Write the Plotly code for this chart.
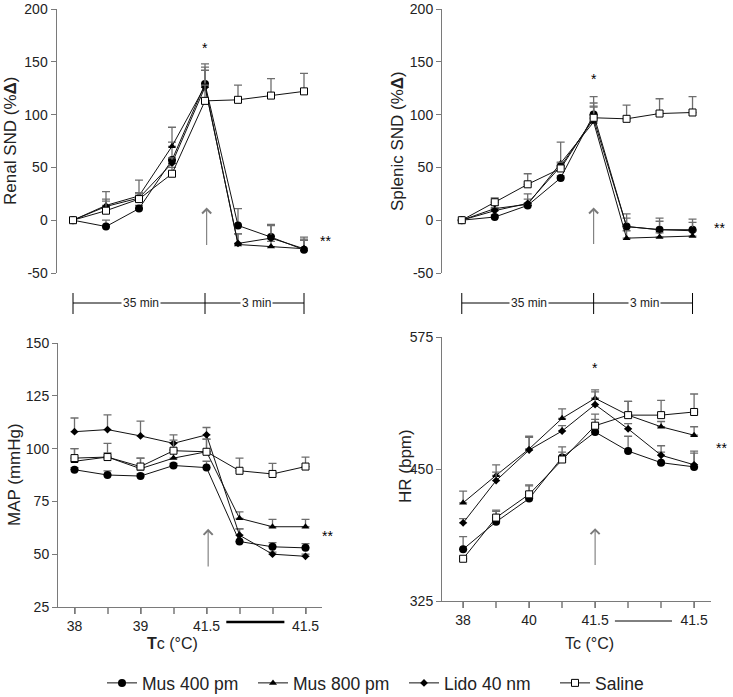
import plotly.graph_objects as go

W, H = 733, 697

# ---------------- data ----------------
time_index = [0, 1, 2, 3, 4, 5, 6, 7]
series_names = ["Mus 400 pm", "Mus 800 pm", "Lido 40 nm", "Saline"]

# Renal SND (%Δ)
renal_mus400 = [0, -6, 11, 57, 129, -5, -16, -28]
renal_mus800 = [0, 14, 23, 70, 127, -23, -25, -27]
renal_lido = [0, 13, 21, 54, 126, -22, -17, -27]
renal_saline = [0, 9, 20, 44, 113, 114, 118, 122]
renal_mus400_err = [0, 6, 3, 17, 19, 16, 12, 12]
renal_mus800_err = [0, 13, 15, 18, 18, 10, 5, 8]
renal_lido_err = [0, 5, 5, 5, 16, 9, 12, 9]
renal_saline_err = [0, 11, 5, 6, 15, 14, 16, 17]

# Splenic SND (%Δ)
splenic_mus400 = [0, 3, 14, 40, 100, -6, -9, -9]
splenic_mus800 = [0, 11, 15, 54, 93, -17, -16, -15]
splenic_lido = [0, 9, 16, 51, 96, -6, -9, -10]
splenic_saline = [0, 17, 34, 49, 97, 96, 101, 102]
splenic_mus400_err = [0, 2, 2, 2, 11, 12, 11, 10]
splenic_mus800_err = [0, 3, 10, 20, 14, 7, 4, 5]
splenic_lido_err = [0, 3, 4, 4, 12, 8, 8, 8]
splenic_saline_err = [0, 4, 10, 3, 20, 13, 14, 15]

# MAP (mmHg)
map_mus400 = [90, 87.5, 87, 92, 91, 56, 53.5, 53]
map_mus800 = [94, 96, 90.5, 95.5, 98.5, 67, 63, 63]
map_lido = [108, 109, 106, 102.5, 106.5, 59, 50, 49]
map_saline = [95.5, 96, 91.5, 99, 98.5, 89.5, 88, 91.5]
map_mus400_err = [1, 2, 1, 1, 3, 6, 2, 2]
map_mus800_err = [6, 6.5, 5, 4, 6, 3, 3.5, 3.5]
map_lido_err = [6.5, 7, 7, 4, 3.5, 3, 1, 1]
map_saline_err = [4.5, 2, 4, 5, 6, 6, 5, 4.5]

# HR (bpm)
hr_mus400 = [374, 400, 422, 461, 485, 467, 456, 452]
hr_mus800 = [418, 444, 469, 498, 517, 501, 490, 482]
hr_lido = [399, 439, 468, 486, 511, 488, 463, 454]
hr_saline = [365, 404, 426, 459, 491, 501, 501, 504]
hr_mus400_err = [12, 11, 13, 10, 12, 14, 10, 13]
hr_mus800_err = [11, 10, 12, 9, 8, 13, 5, 8]
hr_lido_err = [4, 8, 12, 5, 12, 5, 9, 13]
hr_saline_err = [0, 6, 8, 7, 11, 13, 14, 17]

top_tick_vals = [-50, 0, 50, 100, 150, 200]
top_tick_text = ["-50", "0", "50", "100", "150", "200"]
map_tick_vals = [25, 50, 75, 100, 125, 150]
hr_tick_vals = [325, 450, 575]
map_x_tickvals = [0, 2, 4, 7]
map_x_ticktext = ["38", "39", "41.5", "41.5"]
hr_x_tickvals = [0, 2, 4, 7]
hr_x_ticktext = ["38", "40", "41.5", "41.5"]

# ---------------- styles ----------------
FONT = "Liberation Sans, Arial, sans-serif"
AXC = "#7a7a7a"
TXT = "#222222"
ERRC = "#6e6e6e"

styles = {
    "Mus 400 pm": dict(symbol="circle", size=8, color="black", line=dict(color="black", width=0)),
    "Mus 800 pm": dict(symbol="triangle-up", size=7, color="black", line=dict(color="black", width=0)),
    "Lido 40 nm": dict(symbol="diamond", size=6, color="black", line=dict(color="black", width=0)),
    "Saline": dict(symbol="square", size=7, color="white", line=dict(color="black", width=1)),
}

panels = [
    ("x", "y", [renal_mus400, renal_mus800, renal_lido, renal_saline],
     [renal_mus400_err, renal_mus800_err, renal_lido_err, renal_saline_err]),
    ("x2", "y2", [splenic_mus400, splenic_mus800, splenic_lido, splenic_saline],
     [splenic_mus400_err, splenic_mus800_err, splenic_lido_err, splenic_saline_err]),
    ("x3", "y3", [map_mus400, map_mus800, map_lido, map_saline],
     [map_mus400_err, map_mus800_err, map_lido_err, map_saline_err]),
    ("x4", "y4", [hr_mus400, hr_mus800, hr_lido, hr_saline],
     [hr_mus400_err, hr_mus800_err, hr_lido_err, hr_saline_err]),
]

fig = go.Figure()
for pi, (xa, ya, vals, errs) in enumerate(panels):
    for name, v, e in zip(series_names, vals, errs):
        fig.add_trace(go.Scatter(
            x=time_index, y=v, xaxis=xa, yaxis=ya, name=name,
            mode="lines+markers", legendgroup=name, showlegend=(pi == 0),
            line=dict(color="#111111", width=1),
            marker=styles[name],
            error_y=dict(type="data", array=e, arrayminus=[0] * len(e), symmetric=False,
                         color=ERRC, thickness=1.3, width=4),
            cliponaxis=False,
        ))


def xdom(a, b):
    return [a / W, b / W]


def ydom(top, bottom):
    return [1 - bottom / H, 1 - top / H]


def py(p):
    return 1 - p / H


yax_common = dict(showline=True, linecolor=AXC, linewidth=1, ticks="outside", ticklen=5,
                  tickcolor=AXC, tickwidth=1, showgrid=False, zeroline=False, automargin=False,
                  tickfont=dict(family=FONT, size=14, color=TXT), tickmode="array")

xax_hidden = dict(visible=False, showgrid=False, zeroline=False, automargin=False)
xax_bottom = dict(showline=True, linecolor=AXC, linewidth=1, ticks="outside", ticklen=6,
                  tickcolor=AXC, tickwidth=1, showgrid=False, zeroline=False, automargin=False,
                  tickfont=dict(family=FONT, size=14, color=TXT), tickmode="array",
                  minor=dict(tickmode="linear", tick0=0, dtick=1, ticks="outside", ticklen=6,
                             tickcolor="#9a9a9a", tickwidth=2, showgrid=False))

fig.update_layout(
    width=W, height=H, margin=dict(l=0, r=0, t=0, b=0, autoexpand=False),
    paper_bgcolor="white", plot_bgcolor="white",
    font=dict(family=FONT, color=TXT),
    xaxis=dict(domain=xdom(56.5, 320.5), range=[-0.5, 7.5], anchor="y", **xax_hidden),
    yaxis=dict(domain=ydom(9, 273), range=[-50, 200], anchor="x", tickvals=top_tick_vals,
               ticktext=top_tick_text, **yax_common),
    xaxis2=dict(domain=xdom(442, 709), range=[-0.6, 7.5], anchor="y2", **xax_hidden),
    yaxis2=dict(domain=ydom(9, 273), range=[-50, 200], anchor="x2", tickvals=top_tick_vals,
                ticktext=top_tick_text, **yax_common),
    xaxis3=dict(domain=xdom(58, 322), range=[-0.5, 7.5], anchor="y3",
                tickvals=map_x_tickvals, ticktext=map_x_ticktext, **xax_bottom),
    yaxis3=dict(domain=ydom(343, 607), range=[25, 150], anchor="x3", tickvals=map_tick_vals, **yax_common),
    xaxis4=dict(domain=xdom(442, 710.6), range=[-0.64, 7.5], anchor="y4",
                tickvals=hr_x_tickvals, ticktext=hr_x_ticktext, **xax_bottom),
    yaxis4=dict(domain=ydom(337, 601), range=[325, 575], anchor="x4", tickvals=hr_tick_vals, **yax_common),
    legend=dict(orientation="h", x=404 / W, xanchor="center", y=py(683), yanchor="middle",
                font=dict(family=FONT, size=17.5, color=TXT), itemwidth=30,
                entrywidth=106, entrywidthmode="pixels",
                traceorder="normal", bgcolor="rgba(0,0,0,0)"),
    showlegend=True,
)

shapes = []
annotations = []

# timelines under top panels
for xa, ypx in (("x", 303), ("x2", 303)):
    shapes.append(dict(type="line", xref=xa, yref="paper", x0=0, x1=7, y0=py(ypx), y1=py(ypx),
                       line=dict(color="black", width=1)))
    for xv in (0, 4, 7):
        shapes.append(dict(type="line", xref=xa, yref="paper", x0=xv, x1=xv, y0=py(293), y1=py(314),
                           line=dict(color="black", width=1)))
    annotations.append(dict(xref=xa, yref="paper", x=2.05, y=py(303), text="35 min", showarrow=False,
                            bgcolor="white", font=dict(size=12, color=TXT, family=FONT), borderpad=1))
    annotations.append(dict(xref=xa, yref="paper", x=5.55, y=py(303), text="3 min", showarrow=False,
                            bgcolor="white", font=dict(size=12, color=TXT, family=FONT), borderpad=1))

# line between the two 41.5 labels
shapes.append(dict(type="line", xref="x3", yref="paper", x0=4.6, x1=6.36, y0=py(622), y1=py(622),
                   line=dict(color="black", width=2.5)))
shapes.append(dict(type="line", xref="x4", yref="paper", x0=4.6, x1=6.33, y0=py(621), y1=py(621),
                   line=dict(color="black", width=1)))

# arrows
for xa, ya, xv, y0, y1 in (("x", "y", 4.05, -25, 12), ("x2", "y2", 4.0, -24, 12),
                           ("x3", "y3", 4.05, 43.5, 62), ("x4", "y4", 4.0, 357.6, 394)):
    annotations.append(dict(xref=xa, yref=ya, axref=xa, ayref=ya, x=xv, y=y1, ax=xv, ay=y0,
                            text="", showarrow=True, arrowhead=4, arrowsize=1.6, arrowwidth=1.1,
                            arrowcolor="#7a7a7a", standoff=0))

# single stars above peaks
for xa, ya, xv, yv in (("x", "y", 4.0, 163), ("x2", "y2", 4.0, 134), ("x4", "y4", 4.0, 546)):
    annotations.append(dict(xref=xa, yref=ya, x=xv, y=yv, text="*", showarrow=False,
                            font=dict(size=14, color="black", family=FONT)))

# double stars at the right of panels (pixel positions)
for xpx, ypx in ((318, 241), (712, 228), (320, 536), (714, 448)):
    annotations.append(dict(xref="paper", yref="paper", x=xpx / W, y=py(ypx), text="**", showarrow=False,
                            xanchor="left", yanchor="middle", font=dict(size=14, color="black", family=FONT)))

# axis titles
for xpx, ypx, t in ((11, 141, "Renal SND (%<b>Δ</b>)"), (398, 141, "Splenic SND (%<b>Δ</b>)"),
                    (14, 475, "MAP (mmHg)"), (405, 466, "HR (bpm)")):
    annotations.append(dict(xref="paper", yref="paper", x=xpx / W, y=py(ypx), text=t, textangle=-90,
                            showarrow=False, xanchor="center", yanchor="middle",
                            font=dict(size=17, color=TXT, family=FONT)))

for xpx, t in ((172, "<b>T</b>c (°C)"), (589, "Tc (°C)")):
    annotations.append(dict(xref="paper", yref="paper", x=xpx / W, y=py(643), text=t,
                            showarrow=False, xanchor="center", yanchor="middle",
                            font=dict(size=16, color=TXT, family=FONT)))

fig.update_layout(shapes=shapes, annotations=annotations)

fig.write_html("out.html", config={"displayModeBar": False},
               post_script="document.body.style.margin='0px';document.body.style.overflow='hidden';")
